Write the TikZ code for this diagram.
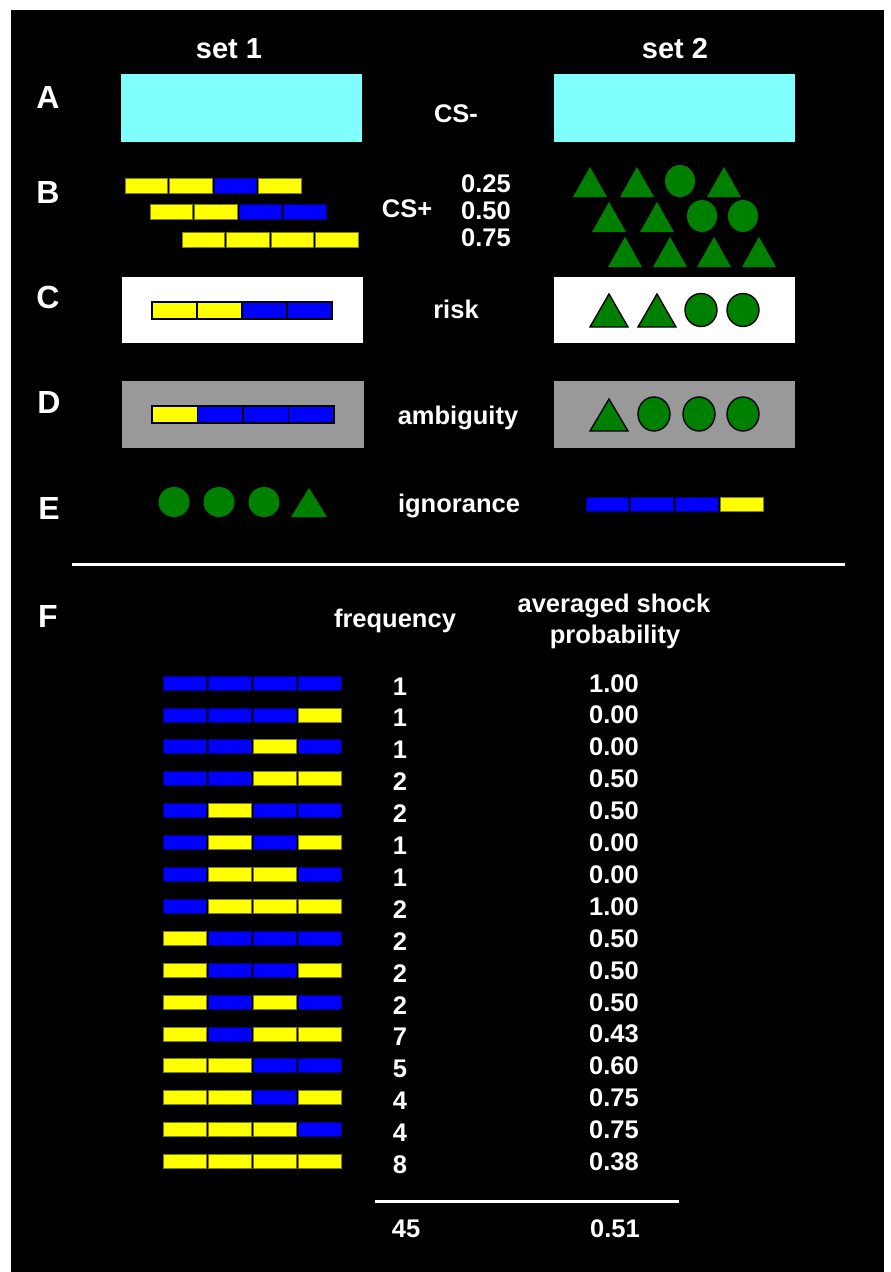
\documentclass[tikz,border=0pt]{standalone}
\usepackage{fontspec}
\setmainfont{Liberation Sans}
\definecolor{cyanbox}{HTML}{80FFFF}
\definecolor{greybox}{HTML}{999999}
\definecolor{shapegreen}{HTML}{008000}
\definecolor{segyellow}{HTML}{FFFF00}
\definecolor{segblue}{HTML}{0000FF}
\tikzset{
  segy/.style={fill=segyellow, draw=segyellow!50!black, line width=0.7pt},
  segb/.style={fill=segblue, draw=segblue!50!black, line width=0.7pt},
  segyk/.style={fill=segyellow, draw=black, line width=1.2pt},
  segbk/.style={fill=segblue, draw=black, line width=1.2pt},
  gshape/.style={fill=shapegreen},
  gshapek/.style={fill=shapegreen, draw=black, line width=1.4pt},
  txt/.style={text=white, font=\fontsize{25.5}{28}\selectfont\bfseries, anchor=base, inner sep=0pt},
  rowlbl/.style={txt, font=\fontsize{32}{34}\selectfont\bfseries},
  hdr/.style={txt, font=\fontsize{29}{32}\selectfont\bfseries},
  whiteline/.style={draw=white, line width=3pt},
}
% x0, ytop, segment width, step, height, list of styles
\newcommand{\segbar}[6]{%
  \foreach \st [count=\i from 0] in {#6} {\path[\st] ({#1+\i*#4},{#2}) rectangle ++(#3,#5);}}
% cx, apex y, base y, half width, style
\newcommand{\gtri}[5]{\path[#5] ({#1-#4},#3) -- (#1,#2) -- ({#1+#4},#3) -- cycle;}
% cx, cy, rx, ry, style
\newcommand{\gcirc}[5]{\path[#5] (#1,#2) ellipse [x radius=#3pt, y radius=#4pt];}
% index, four segment styles, frequency, probability
\newcommand{\frow}[7]{%
  \pgfmathsetmacro\ytop{676+31.9*#1}
  \segbar{163}{\ytop}{43}{45}{14}{#2,#3,#4,#5}
  \node[txt] (freq#1) at (400,\ytop+19) {#6};
  \node[txt] (prob#1) at (614,\ytop+16) {#7};
}
\begin{document}
\begin{tikzpicture}[x=1pt,y=-1pt]
\useasboundingbox (0,0) rectangle (891,1272);
\fill[white] (0,0) rectangle (891,1272);
\fill[black] (11,10) rectangle (884,1272);

% headers
\node[hdr] (set1) at (229,58) {set 1};
\node[hdr] (set2) at (675,58) {set 2};

% row letters
\node[rowlbl] (lA) at (48,108) {A};
\node[rowlbl] (lB) at (48,203) {B};
\node[rowlbl] (lC) at (48,308) {C};
\node[rowlbl] (lD) at (49,413) {D};
\node[rowlbl] (lE) at (49,519) {E};
\node[rowlbl] (lF) at (48,627) {F};

% A
\fill[cyanbox] (121,74) rectangle (362,142);
\fill[cyanbox] (554,74) rectangle (795,142);
\node[txt] (csminus) at (456,122) {CS-};

% B
\segbar{125}{178}{42.5}{44.5}{15}{segy,segy,segb,segy}
\segbar{150}{204}{42.5}{44.5}{15}{segy,segy,segb,segb}
\segbar{182}{232}{42.5}{44.5}{15}{segy,segy,segy,segy}
\node[txt] (csplus) at (407,217) {CS+};
\node[txt] (p25) at (486,192) {0.25};
\node[txt] (p50) at (486,219) {0.50};
\node[txt] (p75) at (486,246) {0.75};
\gtri{590}{167}{197}{17}{gshape}
\gtri{637}{167}{197}{17}{gshape}
\gcirc{680}{181}{15}{16}{gshape}
\gtri{724}{167}{197}{17}{gshape}
\gtri{609}{202}{232}{17}{gshape}
\gtri{657}{202}{232}{17}{gshape}
\gcirc{702}{216}{15}{16}{gshape}
\gcirc{743}{216}{15}{16}{gshape}
\gtri{625}{237}{267}{17}{gshape}
\gtri{670}{237}{267}{17}{gshape}
\gtri{714}{237}{267}{17}{gshape}
\gtri{759}{237}{267}{17}{gshape}

% C
\fill[white] (122,277) rectangle (363,343);
\fill[white] (554,277) rectangle (795,343);
\segbar{152}{302}{45}{45}{17}{segyk,segyk,segbk,segbk}
\node[txt] (risk) at (456,318) {risk};
\gtri{609}{294}{327}{19}{gshapek}
\gtri{657}{294}{327}{19}{gshapek}
\gcirc{701}{310}{16}{16.5}{gshapek}
\gcirc{743}{310}{16}{16.5}{gshapek}

% D
\fill[greybox] (122,381) rectangle (364,448);
\fill[greybox] (554,381) rectangle (795,448);
\segbar{152}{406}{45.5}{45.5}{17}{segyk,segbk,segbk,segbk}
\node[txt] (ambig) at (458,424) {ambiguity};
\gtri{609}{399}{431}{19}{gshapek}
\gcirc{654}{414}{16}{17}{gshapek}
\gcirc{699}{414}{16}{17}{gshapek}
\gcirc{743}{414}{16}{17}{gshapek}

% E
\gcirc{174}{502}{15.5}{15}{gshape}
\gcirc{219}{502}{15.5}{15}{gshape}
\gcirc{264}{502}{15.5}{15}{gshape}
\gtri{309}{488}{517}{18}{gshape}
\node[txt] (ignor) at (459,512) {ignorance};
\segbar{586}{497}{42.5}{44.8}{14}{segb,segb,segb,segy}

% separator
\coordinate (sepL) at (72,564);
\coordinate (sepR) at (845,564);
\draw[whiteline] (sepL) -- (sepR);

% F
\node[txt] (freqhdr) at (395,627) {frequency};
\node[txt] (probhdr1) at (614,612) {averaged shock};
\node[txt] (probhdr2) at (615,643) {probability};

\frow{0}{segb}{segb}{segb}{segb}{1}{1.00}
\frow{1}{segb}{segb}{segb}{segy}{1}{0.00}
\frow{2}{segb}{segb}{segy}{segb}{1}{0.00}
\frow{3}{segb}{segb}{segy}{segy}{2}{0.50}
\frow{4}{segb}{segy}{segb}{segb}{2}{0.50}
\frow{5}{segb}{segy}{segb}{segy}{1}{0.00}
\frow{6}{segb}{segy}{segy}{segb}{1}{0.00}
\frow{7}{segb}{segy}{segy}{segy}{2}{1.00}
\frow{8}{segy}{segb}{segb}{segb}{2}{0.50}
\frow{9}{segy}{segb}{segb}{segy}{2}{0.50}
\frow{10}{segy}{segb}{segy}{segb}{2}{0.50}
\frow{11}{segy}{segb}{segy}{segy}{7}{0.43}
\frow{12}{segy}{segy}{segb}{segb}{5}{0.60}
\frow{13}{segy}{segy}{segb}{segy}{4}{0.75}
\frow{14}{segy}{segy}{segy}{segb}{4}{0.75}
\frow{15}{segy}{segy}{segy}{segy}{8}{0.38}

\coordinate (sumL) at (375,1201);
\coordinate (sumR) at (679,1201);
\draw[whiteline] (sumL) -- (sumR);
\node[txt] (total) at (406,1237) {45};
\node[txt] (avg) at (615,1237) {0.51};
\end{tikzpicture}
\end{document}
